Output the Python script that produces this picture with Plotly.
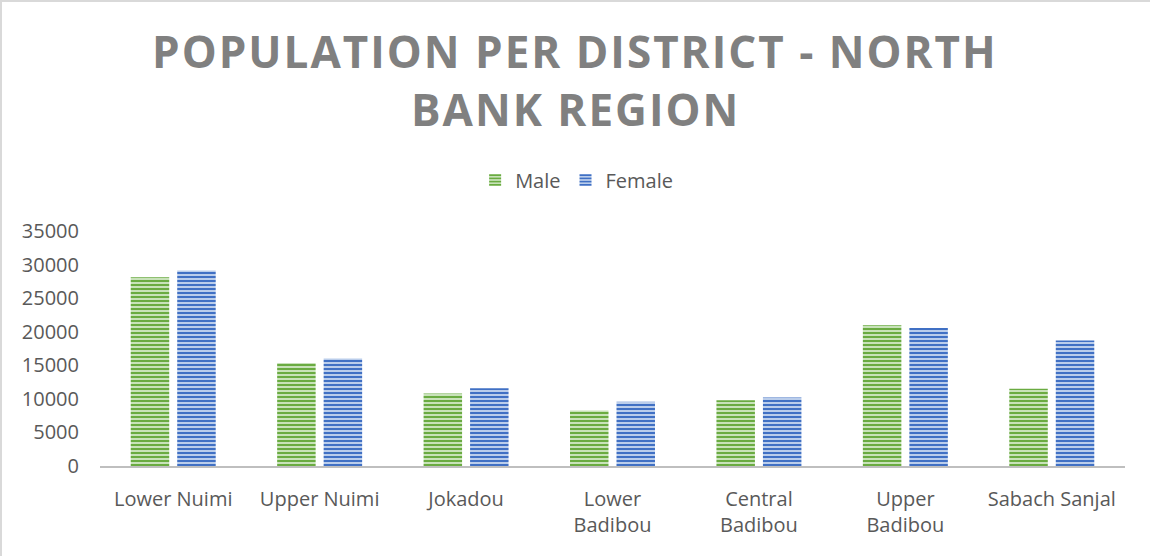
import plotly.graph_objects as go

districts = ["Lower Nuimi", "Upper Nuimi", "Jokadou", "Lower<br>Badibou",
             "Central<br>Badibou", "Upper<br>Badibou", "Sabach Sanjal"]
male = [28130, 15340, 10780, 8280, 9780, 20970, 11520]
female = [29130, 16000, 11570, 9580, 10220, 20570, 18690]
y_ticks = [0, 5000, 10000, 15000, 20000, 25000, 30000, 35000]
y_tick_text = [str(v) for v in y_ticks]
title_lines = ["POPULATION PER DISTRICT - NORTH", "BANK REGION"]

W, H = 1150, 556
ml, mr, mt, mb = 100, 25, 231, 90
pw = W - ml - mr
ph = H - mt - mb


def py(pix):
    """pixel row (from top of figure) -> paper y"""
    return (H - mb - pix) / ph


def px(pix):
    return (pix - ml) / pw


fig = go.Figure()
fig.add_bar(name="Male", x=districts, y=male,
            marker=dict(color="#d3e8c6", line=dict(width=0),
                        pattern=dict(shape="-", fgcolor="#6aab41", fgopacity=1,
                                     size=4, solidity=0.55, fillmode="overlay")))
fig.add_bar(name="Female", x=districts, y=female,
            marker=dict(color="#c8d7f0", line=dict(width=0),
                        pattern=dict(shape="-", fgcolor="#4070c4", fgopacity=1,
                                     size=4, solidity=0.55, fillmode="overlay")))

annotations = []
for txt, ymid in zip(title_lines, [51, 109]):
    annotations.append(dict(
        text=f'<span style="letter-spacing:2px">{txt}</span>',
        xref="paper", yref="paper", x=px(575), y=py(ymid),
        xanchor="center", yanchor="middle", showarrow=False,
        font=dict(family="Open Sans", size=44, color="#808080", weight="bold")))

fig.update_layout(
    width=W, height=H,
    margin=dict(l=ml, r=mr, t=mt, b=mb),
    paper_bgcolor="white", plot_bgcolor="white",
    font=dict(family="Open Sans", color="#595959", size=20),
    barmode="group", bargap=0.365, bargroupgap=0.172,
    showlegend=True,
    legend=dict(orientation="h", x=0.465, xanchor="center", y=py(180),
                yanchor="middle", yref="paper", font=dict(size=20, color="#595959"),
                itemwidth=30, traceorder="normal"),
    xaxis=dict(showgrid=False, showline=True, linecolor="#bfbfbf", linewidth=2,
               ticks="", tickfont=dict(size=20, color="#595959"), ticklabelstandoff=14),
    yaxis=dict(range=[0, 35000], tickvals=y_ticks, ticktext=y_tick_text,
               showgrid=False, showline=False,
               zeroline=False, ticks="", tickfont=dict(size=20, color="#595959"),
               ticklabelstandoff=20),
    annotations=annotations,
    shapes=[
        dict(type="line", xref="paper", yref="paper", x0=px(0), x1=px(W),
             y0=py(1), y1=py(1), line=dict(color="#d9d9d9", width=2)),
        dict(type="line", xref="paper", yref="paper", x0=px(1), x1=px(1),
             y0=py(H), y1=py(0), line=dict(color="#d9d9d9", width=2)),
    ],
)
fig.write_html("out.html", config={"displayModeBar": False},
               post_script="document.body.style.margin='0';")
